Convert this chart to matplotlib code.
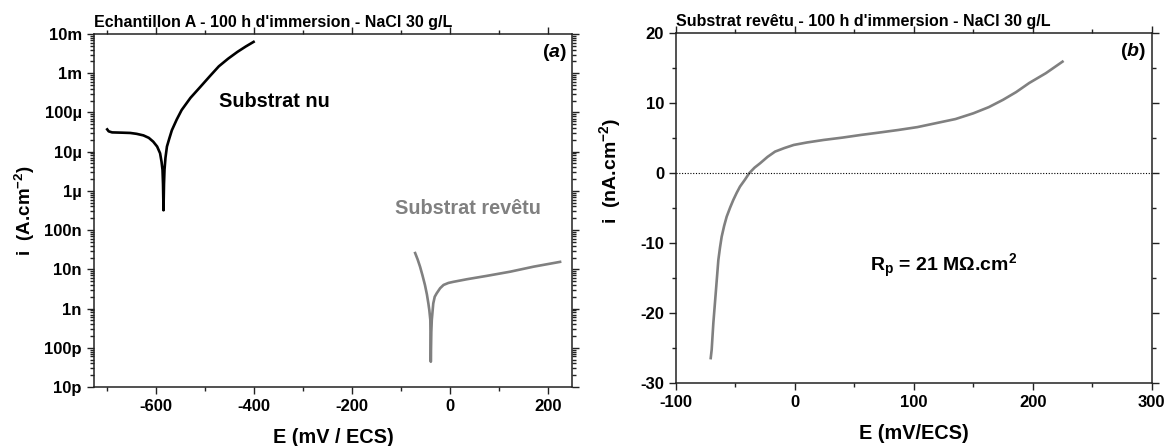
import matplotlib
matplotlib.use('Agg')
import matplotlib.pyplot as plt
from matplotlib.ticker import FixedLocator, FixedFormatter, MultipleLocator, LogLocator, NullFormatter

plt.rcParams['font.family'] = ['Liberation Sans', 'DejaVu Sans']
plt.rcParams['font.weight'] = 'bold'
plt.rcParams['axes.titleweight'] = 'bold'
plt.rcParams['axes.labelweight'] = 'bold'
plt.rcParams['axes.unicode_minus'] = False
plt.rcParams['mathtext.fontset'] = 'custom'
plt.rcParams['mathtext.rm'] = 'Liberation Sans:bold'
plt.rcParams['mathtext.bf'] = 'Liberation Sans:bold'
plt.rcParams['mathtext.it'] = 'Liberation Sans:italic:bold'
plt.rcParams['mathtext.default'] = 'regular'

# (a) bare substrate, |i| (A.cm-2) vs E (mV/ECS)
bare_E = [-700, -697, -690, -670, -653, -640, -626, -615, -606, -598, -592, -589, -587,
          -586, -585, -584, -583, -581, -578, -573, -568, -558, -548, -530, -509,
          -490, -472, -453, -434, -417, -401]
bare_i = [3.7e-5, 3.3e-5, 3.1e-5, 3.05e-5, 3.0e-5, 2.85e-5, 2.6e-5, 2.25e-5, 1.8e-5,
          1.35e-5, 9.1e-6, 5.5e-6, 3.4e-6, 1.5e-6, 3.2e-7, 1.5e-6, 3.4e-6, 7e-6,
          1.35e-5, 2.2e-5, 3.5e-5, 6.6e-5, 1.15e-4, 2.35e-4, 4.6e-4, 8.5e-4, 1.5e-3,
          2.35e-3, 3.5e-3, 4.8e-3, 6.3e-3]

# (a) coated substrate
coat_E = [-71, -66, -61, -56, -51, -47, -44, -42, -40, -39, -38, -37, -34, -31, -27,
          -20, -13, -3, 7, 35, 75, 123, 171, 225]
coat_i = [2.6e-8, 1.8e-8, 1.17e-8, 7.0e-9, 4.0e-9, 2.3e-9, 1.35e-9, 9.0e-10, 5.1e-10,
          4.4e-11, 2.5e-10, 5.1e-10, 1.35e-9, 2.0e-9, 2.45e-9, 3.3e-9, 4.0e-9,
          4.5e-9, 4.8e-9, 5.6e-9, 6.8e-9, 8.7e-9, 1.17e-8, 1.55e-8]

# (b) coated substrate, i (nA.cm-2)
lin_E = [-70.8, -70, -68.6, -66.4, -64.4, -63, -61.6, -59.5, -57.4, -54.5, -51.8, -49,
         -46.2, -42, -38.5, -34, -29.3, -23, -16.7, -9, -1, 10, 24, 40, 55.5, 70, 87,
         103, 118, 135, 150, 163, 175, 186, 197, 211, 225]
lin_i = [-26.4, -25.2, -21.4, -16.7, -12.4, -10.6, -9.06, -7.5, -6.2, -4.9, -3.8, -2.8,
         -1.9, -0.9, 0, 0.8, 1.43, 2.35, 3.1, 3.6, 4.05, 4.4, 4.76, 5.1, 5.48, 5.8,
         6.19, 6.6, 7.14, 7.75, 8.57, 9.45, 10.5, 11.6, 12.9, 14.3, 15.95]

log_ticks = [1e-11, 1e-10, 1e-9, 1e-8, 1e-7, 1e-6, 1e-5, 1e-4, 1e-3, 1e-2]
log_labels = ['10p', '100p', '1n', '10n', '100n', '1µ', '10µ', '100µ', '1m', '10m']

W, H = 1167, 446
fig = plt.figure(figsize=(W / 100, H / 100), dpi=100)

axA = fig.add_axes([93.5 / W, (H - 387) / H, (572.3 - 93.5) / W, (387 - 34) / H])
axB = fig.add_axes([676 / W, (H - 383.3) / H, (1151.7 - 676) / W, (383.3 - 33.3) / H])

tick_fs = 12
for ax in (axA, axB):
    for s in ax.spines.values():
        s.set_linewidth(1.1)
        s.set_color('#222222')
    ax.tick_params(which='both', direction='out', top=True, right=True,
                   labeltop=False, labelright=False, color='#222222',
                   labelsize=tick_fs, width=1.0)
    ax.tick_params(which='major', length=5)
    ax.tick_params(which='minor', length=3)

# ---- panel (a)
axA.plot(bare_E, bare_i, color='black', lw=1.9, solid_joinstyle='round')
axA.plot(coat_E, coat_i, color='#808080', lw=1.9, solid_joinstyle='round')
axA.set_yscale('log')
axA.set_xlim(-728, 250)
axA.set_ylim(1e-11, 1e-2)
axA.yaxis.set_major_locator(FixedLocator(log_ticks))
axA.yaxis.set_major_formatter(FixedFormatter(log_labels))
axA.yaxis.set_minor_locator(LogLocator(base=10, subs=range(2, 10), numticks=20))
axA.yaxis.set_minor_formatter(NullFormatter())
axA.xaxis.set_major_locator(MultipleLocator(200))
axA.xaxis.set_minor_locator(MultipleLocator(100))
axA.set_xlabel('E (mV / ECS)', fontsize=14.3, labelpad=10)
axA.set_ylabel('i  (A.cm$^{-2}$)', fontsize=13.5, labelpad=5)
axA.set_title("Echantillon A - 100 h d'immersion - NaCl 30 g/L", loc='left',
              fontsize=11.5, pad=5)
axA.text(-472, 1.9e-4, 'Substrat nu', fontsize=14.3, color='black', va='center')
axA.text(-112, 3.5e-7, 'Substrat revêtu', fontsize=14.3, color='#808080', va='center')
axA.text(0.988, 0.949, r'($\mathit{a}$)', transform=axA.transAxes,
         ha='right', va='center', fontsize=14)

# ---- panel (b)
axB.plot(lin_E, lin_i, color='#808080', lw=1.9, solid_joinstyle='round')
axB.axhline(0, color='black', lw=0.8, ls=(0, (1, 1.5)))
axB.set_xlim(-100, 300)
axB.set_ylim(-30, 20)
axB.xaxis.set_major_locator(MultipleLocator(100))
axB.xaxis.set_minor_locator(MultipleLocator(50))
axB.yaxis.set_major_locator(MultipleLocator(10))
axB.yaxis.set_minor_locator(MultipleLocator(5))
axB.set_xlabel('E (mV/ECS)', fontsize=14.3, labelpad=10)
axB.set_ylabel('i  (nA.cm$^{-2}$)', fontsize=14)
axB.yaxis.set_label_coords(-0.111, 0.607)
axB.set_title("Substrat revêtu - 100 h d'immersion - NaCl 30 g/L", loc='left',
              fontsize=11.5, pad=5)
axB.text(63, -14, 'R$_p$ = 21 MΩ.cm$^2$', fontsize=14, va='baseline')
axB.text(0.988, 0.949, r'($\mathit{b}$)', transform=axB.transAxes,
         ha='right', va='center', fontsize=14)

fig.savefig('out.png', dpi=100)
